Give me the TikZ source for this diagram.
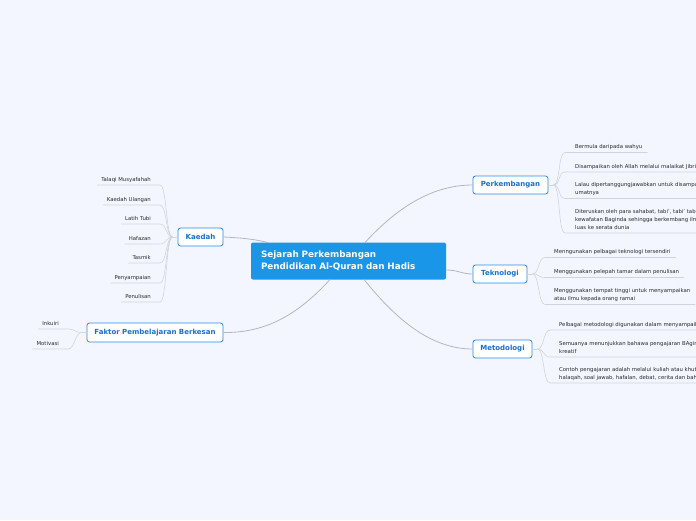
\documentclass[tikz,border=0pt]{standalone}
\usepackage{fontspec}
\setmainfont{DejaVu Sans}
\definecolor{bgc}{RGB}{243,246,254}
\definecolor{topicblue}{RGB}{42,138,230}
\definecolor{topictext}{RGB}{24,112,205}
\definecolor{centralc}{RGB}{26,150,232}
\definecolor{maingray}{RGB}{178,182,192}
\definecolor{leafgray}{RGB}{208,212,222}
\definecolor{leaftext}{RGB}{40,40,50}
\tikzset{
  topic/.style={draw=topicblue, line width=0.8pt, fill=white, rounded corners=2.5pt,
    font=\fontsize{7}{8}\selectfont\bfseries, text=topictext, minimum height=18pt, inner sep=0pt},
  central/.style={fill=centralc, rounded corners=2pt, text=white,
    font=\fontsize{8.8}{12}\selectfont\bfseries, inner xsep=10pt, inner ysep=0pt, align=left},
  leaf/.style={font=\fontsize{5.35}{8}\selectfont, text=leaftext, inner sep=0pt, align=left, anchor=base west},
  leafr/.style={font=\fontsize{5.35}{8}\selectfont, text=leaftext, inner sep=0pt, align=right, anchor=base east},
  mainline/.style={draw=maingray, line width=0.8pt},
  leafline/.style={draw=leafgray, line width=0.6pt},
}
\begin{document}
\begin{tikzpicture}[x=1pt,y=-1pt]
\fill[bgc] (0,0) rectangle (696,520);
\clip (0,0) rectangle (696,520);
\useasboundingbox (0,0) rectangle (696,520);

% central and topics
\node[central, minimum width=195pt, minimum height=37pt, text width=175pt] (c) at (348.5,261)
  {Sejarah Perkembangan\\Pendidikan Al-Quran dan Hadis};
\node[topic, minimum width=75pt] (perk) at (510.5,185) {Perkembangan};
\node[topic, minimum width=54pt] (tek) at (500,274) {Teknologi};
\node[topic, minimum width=59pt] (met) at (502.5,349) {Metodologi};
\node[topic, minimum width=45pt] (kae) at (200.5,237) {Kaedah};
\node[topic, minimum width=136pt, minimum height=19pt] (fak) at (155,332.5) {Faktor Pembelajaran Berkesan};

% main connectors
\coordinate (cK) at (268,242.5);
\coordinate (cP) at (365,242.5);
\coordinate (cT) at (446,270);
\coordinate (cM) at (364,279.5);
\coordinate (cF) at (330,279.5);
\draw[mainline] (kae.east) .. controls (245,238) and (255,239.5) .. (cK);
\draw[mainline] (cP) .. controls (395,210) and (430,185) .. (perk.west);
\draw[mainline] (cT) .. controls (458,270) and (462,274) .. (tek.west);
\draw[mainline] (cM) .. controls (395,318) and (430,349) .. (met.west);
\draw[mainline] (cF) .. controls (295,318) and (262,333) .. (fak.east);

% Perkembangan leaves
\node[leaf] (p1) at (575,148) {Bermula daripada wahyu};
\node[leaf] (p2) at (575,168) {Disampaikan oleh Allah melalui malaikat Jibril};
\node[leaf] (p3) at (575,194) {Lalau dipertanggungjawabkan untuk disampaikan\\umatnya};
\node[leaf] (p4) at (575,229) {Diteruskan oleh para sahabat, tabi', tabi' tabi'in\\kewafatan Baginda sehingga berkembang ilmu\\luas ke serata dunia};
\coordinate (p1s) at (565,152.5);
\coordinate (p2s) at (565,172);
\coordinate (p3s) at (565,198.5);
\coordinate (p4s) at (565,233);
\draw[leafline] (perk.east) -- ++(5,0) coordinate (pk);
\foreach \n in {p1,p2,p3,p4}
  \draw[leafline] (pk) .. controls +(7,0) and +(-7,0) .. (\n s) -- (\n.east |- \n s) -- ++(5,0);

% Teknologi leaves
\node[leaf] (t1) at (554,253) {Menngunakan pelbagai teknologi tersendiri};
\node[leaf] (t2) at (554,273) {Menggunakan pelepah tamar dalam penulisan};
\node[leaf] (t3) at (554,300) {Menggunakan tempat tinggi untuk menyampaikan\\atau ilmu kepada orang ramai};
\coordinate (t1s) at (545,257.5);
\coordinate (t2s) at (545,277.5);
\coordinate (t3s) at (545,304.5);
\draw[leafline] (tek.east) -- ++(5,0) coordinate (tk);
\foreach \n in {t1,t2,t3}
  \draw[leafline] (tk) .. controls +(7,0) and +(-7,0) .. (\n s) -- (\n.east |- \n s) -- ++(5,0);

% Metodologi leaves
\node[leaf] (m1) at (559,326) {Pelbagai metodologi digunakan dalam menyampaikan};
\node[leaf] (m2) at (559,353) {Semuanya menunjukkan bahawa pengajaran BAginda\\kreatif};
\node[leaf] (m3) at (559,379) {Contoh pengajaran adalah melalui kuliah atau khutbah\\halaqah, soal jawab, hafalan, debat, cerita dan bahasa};
\coordinate (m1s) at (550,330);
\coordinate (m2s) at (550,357);
\coordinate (m3s) at (550,383);
\draw[leafline] (met.east) -- ++(5,0) coordinate (mk);
\foreach \n in {m1,m2,m3}
  \draw[leafline] (mk) .. controls +(7,0) and +(-7,0) .. (\n s) -- (\n.east |- \n s) -- ++(5,0);

% Kaedah leaves
\node[leafr] (k1) at (151,181) {Talaqi Musyafahah};
\node[leafr] (k2) at (151,201) {Kaedah Ulangan};
\node[leafr] (k3) at (151,220) {Latih Tubi};
\node[leafr] (k4) at (151,240) {Hafazan};
\node[leafr] (k5) at (151,259) {Tasmik};
\node[leafr] (k6) at (151,279) {Penyampaian};
\node[leafr] (k7) at (151,298) {Penulisan};
\coordinate (k1s) at (160,185);
\coordinate (k2s) at (160,205);
\coordinate (k3s) at (160,224);
\coordinate (k4s) at (160,244);
\coordinate (k5s) at (160,263);
\coordinate (k6s) at (160,283);
\coordinate (k7s) at (160,302);
\draw[leafline] (kae.west) -- ++(-5,0) coordinate (kk);
\foreach \n in {k1,k2,k3,k4,k5,k6,k7}
  \draw[leafline] (kk) .. controls +(-7,0) and +(7,0) .. (\n s) -- (\n.west |- \n s) -- ++(-4,0);

% Faktor leaves
\node[leafr] (f1) at (59,325) {Inkuiri};
\node[leafr] (f2) at (59,345) {Motivasi};
\coordinate (f1s) at (68,329);
\coordinate (f2s) at (68,349);
\draw[leafline] (fak.west) -- ++(-5,0) coordinate (fk);
\foreach \n in {f1,f2}
  \draw[leafline] (fk) .. controls +(-7,0) and +(7,0) .. (\n s) -- (\n.west |- \n s) -- ++(-4,0);
\end{tikzpicture}
\end{document}
